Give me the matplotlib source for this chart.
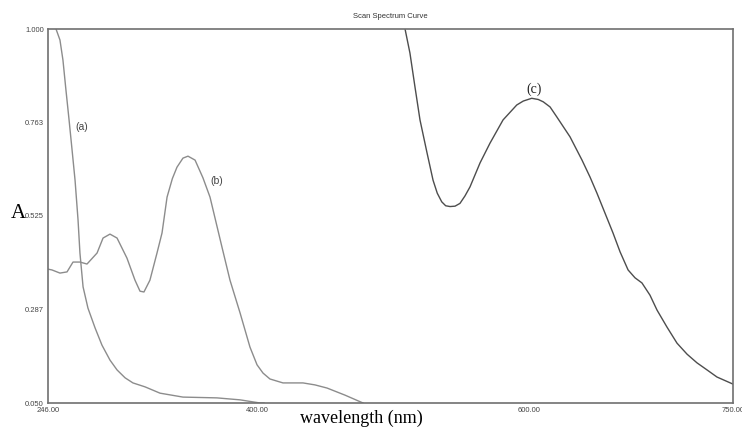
import matplotlib
matplotlib.use('Agg')
import matplotlib.pyplot as plt

# wavelength (nm) / absorbance readings for the three spectra
wl_a = [251.9, 254.8, 257.0, 259.2, 261.5, 263.7, 265.9, 268.1, 269.5, 271.8,
        275.4, 280.6, 285.7, 291.6, 296.8, 302.7, 308.5, 317.4, 328.4, 345.3,
        370.3, 387.3, 402.0, 405.0]
abs_a = [1.000, 0.972, 0.921, 0.845, 0.769, 0.693, 0.616, 0.515, 0.431, 0.345,
         0.291, 0.241, 0.197, 0.159, 0.134, 0.114, 0.101, 0.091, 0.075, 0.065,
         0.063, 0.058, 0.050, 0.050]

wl_b = [246.0, 248.9, 254.8, 260.0, 264.4, 269.5, 274.7, 282.1, 286.5, 291.6,
        296.8, 304.1, 310.0, 313.7, 316.6, 321.0, 326.2, 329.9, 333.6, 337.5,
        340.9, 345.3, 349.0, 354.2, 360.0, 365.2, 374.0, 379.9, 387.3, 394.6,
        399.8, 404.2, 409.3, 418.9, 433.6, 442.4, 451.3, 464.5, 477.8]
abs_b = [0.390, 0.388, 0.380, 0.383, 0.408, 0.408, 0.403, 0.431, 0.469, 0.479,
         0.469, 0.418, 0.362, 0.334, 0.332, 0.362, 0.431, 0.482, 0.573, 0.620,
         0.649, 0.672, 0.677, 0.667, 0.622, 0.573, 0.446, 0.362, 0.279, 0.192,
         0.147, 0.126, 0.111, 0.101, 0.101, 0.096, 0.088, 0.070, 0.050]

wl_c = [508.7, 512.3, 516.0, 519.7, 524.9, 529.3, 532.4, 535.7, 538.6, 541.8,
        545.5, 549.1, 552.8, 556.5, 563.9, 571.2, 580.8, 590.9, 595.7, 601.9,
        606.7, 610.4, 615.4, 620.3, 630.1, 638.9, 644.8, 649.9, 661.7, 666.9,
        672.8, 677.9, 683.0, 688.9, 694.1, 701.4, 708.8, 716.2, 723.5, 730.9,
        738.2, 750.0]
abs_c = [1.000, 0.939, 0.853, 0.769, 0.685, 0.616, 0.583, 0.561, 0.551, 0.549,
         0.550, 0.557, 0.576, 0.599, 0.660, 0.710, 0.769, 0.807, 0.817, 0.824,
         0.821, 0.815, 0.802, 0.777, 0.726, 0.667, 0.624, 0.583, 0.482, 0.434,
         0.388, 0.368, 0.355, 0.324, 0.286, 0.243, 0.202, 0.174, 0.152, 0.134,
         0.116, 0.098]

y_ticks = [0.050, 0.2875, 0.525, 0.7625, 1.000]
y_ticklabels = ['0.050', '0.287', '0.525', '0.763', '1.000']
x_ticks = [246, 400, 600, 750]
x_ticklabels = ['246.00', '400.00', '600.00', '750.00']

fig = plt.figure(figsize=(7.42, 4.32), dpi=100)
ax = fig.add_axes([48/742, 29/432, 685/742, 374/432])

ax.plot(wl_a, abs_a, color='#8c8c8c', lw=1.0)
ax.plot(wl_b, abs_b, color='#8c8c8c', lw=1.0)
ax.plot(wl_c, abs_c, color='#4d4d4d', lw=1.0)

ax.set_xlim(246, 750)
ax.set_ylim(0.05, 1.0)

ax.set_xticks(x_ticks)
ax.set_xticklabels(x_ticklabels)
ax.set_yticks(y_ticks)
ax.set_yticklabels(y_ticklabels)
ax.tick_params(length=0, labelsize=5.5, labelcolor='#444444', pad=3,
               labelfontfamily='Liberation Sans')

for s in ax.spines.values():
    s.set_color('#707070')
    s.set_linewidth(1.2)

ax.set_title('Scan Spectrum Curve', fontsize=5.5, family='Liberation Sans',
             color='#333333', pad=8)

ax.set_xlabel('wavelength (nm)', fontsize=13, family='Liberation Serif')
ax.xaxis.set_label_coords(313/685, -0.019)
ax.set_ylabel('A', fontsize=15, family='Liberation Serif', rotation=0,
              va='center', ha='center')
ax.yaxis.set_label_coords(-30/685, (403-214)/374)

# curve labels
ax.text(271.0, 0.751, '(a)', fontsize=7.5, color='#444444',
        family='Liberation Sans', ha='center', va='center')
ax.text(370.0, 0.615, '(b)', fontsize=7.5, color='#444444',
        family='Liberation Sans', ha='center', va='center')
ax.text(603.5, 0.848, '(c)', fontsize=10, color='#222222',
        family='Liberation Serif', ha='center', va='center')

fig.savefig('out.png', dpi=100)
